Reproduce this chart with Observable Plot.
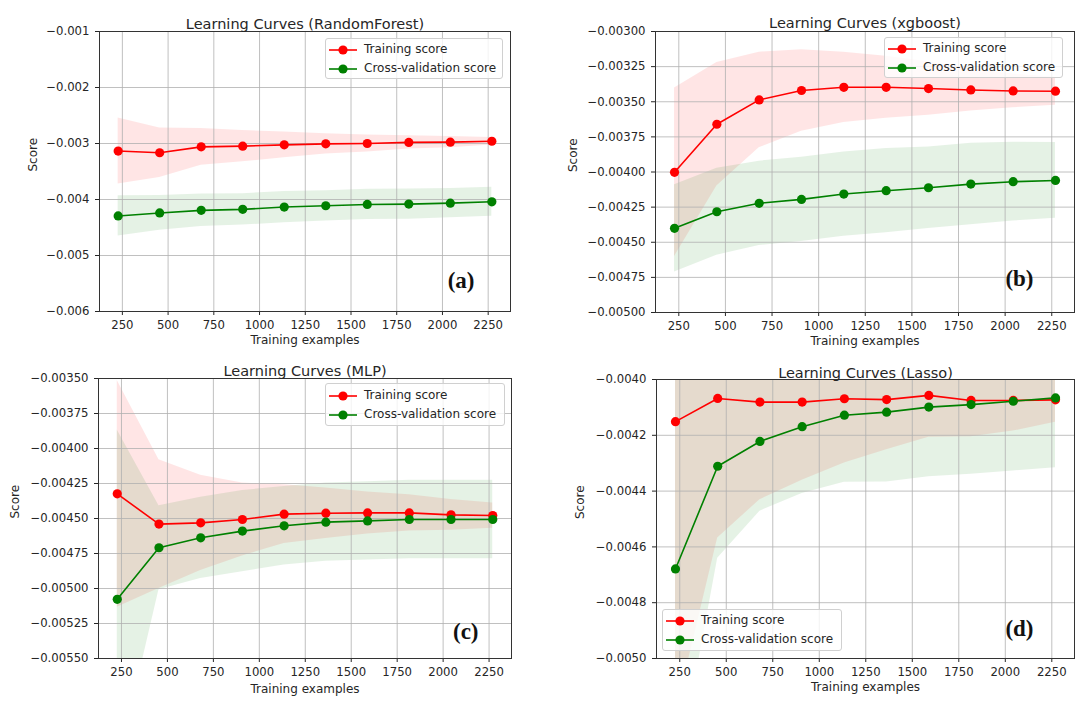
<!DOCTYPE html>
<html><head><meta charset="utf-8">
<script src="https://cdn.jsdelivr.net/npm/d3@7"></script>
<script src="https://cdn.jsdelivr.net/npm/@observablehq/plot@0.6"></script>
<style>
body{margin:0;background:#fff;}
#wrap{position:relative;width:1089px;height:702px;background:#fff;overflow:hidden;font-family:"DejaVu Sans",sans-serif;}
.panel{position:absolute;}
.panel svg{display:block;}
.legend{position:absolute;background:rgba(255,255,255,0.8);border:1px solid #d0d0d0;border-radius:3px;box-sizing:border-box;}
.legend .row{position:absolute;left:0;height:14px;font-size:12px;color:#262626;white-space:nowrap;}
.legend .row svg{position:absolute;top:1px;}
.legend .row span{position:absolute;top:-1px;line-height:14px;}
</style></head><body><div id="wrap"></div>
<script>
// ---- data ----
const sizes = [227, 454, 681, 908, 1135, 1362, 1589, 1816, 2043, 2270];
const xTicks = [250, 500, 750, 1000, 1250, 1500, 1750, 2000, 2250];
const seriesNames = ["Training score", "Cross-validation score"];
const titles = ["Learning Curves (RandomForest)", "Learning Curves (xgboost)", "Learning Curves (MLP)", "Learning Curves (Lasso)"];
const panelLabels = ["(a)", "(b)", "(c)", "(d)"];

const rfTrainMean = [-0.003135, -0.003165, -0.003060, -0.003047, -0.003024, -0.003006, -0.003000, -0.002980, -0.002976, -0.002960];
const rfTrainStd  = [0.00059, 0.00044, 0.00033, 0.00028, 0.00023, 0.00018, 0.00015, 0.00012, 0.00010, 0.000065];
const rfCvMean    = [-0.004294, -0.004240, -0.004194, -0.004176, -0.004135, -0.004112, -0.004088, -0.004082, -0.004065, -0.004041];
const rfCvStd     = [0.00036, 0.00031, 0.00029, 0.00028, 0.00028, 0.00027, 0.00027, 0.00027, 0.00026, 0.00026];
const rfYTicks    = [-0.006, -0.005, -0.004, -0.003, -0.002, -0.001];

const xgbTrainMean = [-0.004002, -0.003660, -0.003487, -0.003420, -0.003397, -0.003397, -0.003406, -0.003416, -0.003423, -0.003425];
const xgbTrainStd  = [0.00060, 0.00044, 0.00034, 0.00029, 0.00025, 0.00022, 0.00019, 0.00015, 0.00012, 0.00010];
const xgbCvMean    = [-0.004401, -0.004283, -0.004223, -0.004195, -0.004157, -0.004133, -0.004112, -0.004086, -0.004069, -0.004060];
const xgbCvStd     = [0.00031, 0.00031, 0.00030, 0.00030, 0.00030, 0.00030, 0.00029, 0.00029, 0.00028, 0.00027];
const xgbYTicks    = [-0.005, -0.00475, -0.0045, -0.00425, -0.004, -0.00375, -0.0035, -0.00325, -0.003];

const mlpTrainMean = [-0.004324, -0.004540, -0.004531, -0.004507, -0.004469, -0.004462, -0.004460, -0.004460, -0.004474, -0.004479];
const mlpTrainStd  = [0.00081, 0.00046, 0.00034, 0.00026, 0.00021, 0.00018, 0.00015, 0.00013, 0.00011, 0.00009];
const mlpCvMean    = [-0.005077, -0.004709, -0.004638, -0.004590, -0.004552, -0.004526, -0.004517, -0.004507, -0.004507, -0.004507];
const mlpCvStd     = [0.00121, 0.00030, 0.00029, 0.00029, 0.00028, 0.00028, 0.00028, 0.00028, 0.00028, 0.00028];
const mlpYTicks    = [-0.0055, -0.00525, -0.005, -0.00475, -0.0045, -0.00425, -0.004, -0.00375, -0.0035];

const lassoTrainMean = [-0.004151, -0.004068, -0.004081, -0.004081, -0.004069, -0.004072, -0.004057, -0.004075, -0.004075, -0.004073];
const lassoTrainStd  = [0.00105, 0.00050, 0.00035, 0.00028, 0.00023, 0.00018, 0.00015, 0.00013, 0.00011, 0.00008];
const lassoCvMean    = [-0.004679, -0.004311, -0.004222, -0.004169, -0.004128, -0.004117, -0.004099, -0.004090, -0.004078, -0.004066];
const lassoCvStd     = [0.00078, 0.00033, 0.00025, 0.00024, 0.00024, 0.00025, 0.00025, 0.00025, 0.00025, 0.00025];
const lassoYTicks    = [-0.005, -0.0048, -0.0046, -0.0044, -0.0042, -0.004];

// ---- helpers ----
const rows = (mean, std) => sizes.map((x, i) => ({x, mean: mean[i], lo: mean[i] - std[i], hi: mean[i] + std[i]}));
const wrap = document.getElementById("wrap");

function panel(cfg) {
  const train = rows(cfg.trainMean, cfg.trainStd);
  const cv = rows(cfg.cvMean, cfg.cvStd);
  const fmt = d3.format(cfg.fmt);
  const yDomain = [cfg.yTicks[0], cfg.yTicks[cfg.yTicks.length - 1]];
  const chart = Plot.plot({
    width: cfg.w, height: cfg.h,
    marginLeft: cfg.ml, marginRight: cfg.mr, marginTop: cfg.mt, marginBottom: cfg.mb,
    style: {fontFamily: "DejaVu Sans, sans-serif", fontSize: "11.7px", color: "#262626", background: "transparent", overflow: "visible"},
    x: {domain: [125, 2372], ticks: xTicks, tickFormat: d => String(d), tickSize: 4, tickPadding: 5, label: null},
    y: {domain: yDomain, ticks: cfg.yTicks, tickFormat: fmt, tickSize: 4, tickPadding: 6, label: null},
    marks: [
      Plot.areaY(train, {x: "x", y1: "lo", y2: "hi", fill: "#ff0000", fillOpacity: 0.1, clip: true}),
      Plot.areaY(cv, {x: "x", y1: "lo", y2: "hi", fill: "#008000", fillOpacity: 0.1, clip: true}),
      Plot.ruleX(xTicks, {stroke: "#b0b0b0", strokeWidth: 0.8}),
      Plot.ruleY(cfg.yTicks, {stroke: "#b0b0b0", strokeWidth: 0.8}),
      Plot.line(train, {x: "x", y: "mean", stroke: "#ff0000", strokeWidth: 1.6, clip: true}),
      Plot.line(cv, {x: "x", y: "mean", stroke: "#008000", strokeWidth: 1.6, clip: true}),
      Plot.dot(train, {x: "x", y: "mean", r: 4.6, fill: "#ff0000", stroke: "none"}),
      Plot.dot(cv, {x: "x", y: "mean", r: 4.6, fill: "#008000", stroke: "none"}),
      Plot.frame({stroke: "#333", strokeWidth: 1}),
      Plot.text([cfg.title], {text: d => d, frameAnchor: "top", dy: cfg.titleDy, fontSize: 14.5, fill: "#262626"}),
      Plot.text(["Score"], {text: d => d, frameAnchor: "left", dx: cfg.scoreDx, rotate: -90, fontSize: 12, fill: "#262626"}),
      Plot.text(["Training examples"], {text: d => d, frameAnchor: "bottom", dy: cfg.xlabDy, fontSize: 12, fill: "#262626"}),
      Plot.text([cfg.label], {text: d => d, frameAnchor: "bottom-right", dx: cfg.labDx, dy: cfg.labDy, fontFamily: "Liberation Serif, Times New Roman, serif", fontWeight: "bold", fontSize: 23, fill: "#111"})
    ]
  });
  const div = document.createElement("div");
  div.className = "panel";
  div.style.left = cfg.left + "px";
  div.style.top = cfg.top + "px";
  div.appendChild(chart);
  wrap.appendChild(div);

  // legend
  const lg = document.createElement("div");
  lg.className = "legend";
  lg.style.left = cfg.lg[0] + "px"; lg.style.top = cfg.lg[1] + "px";
  lg.style.width = cfg.lg[2] + "px"; lg.style.height = cfg.lg[3] + "px";
  const colors = ["#ff0000", "#008000"];
  seriesNames.forEach((name, i) => {
    const r = document.createElement("div");
    r.className = "row";
    r.style.top = (cfg.lgRow[i] - 7) + "px";
    r.innerHTML = `<svg width="28" height="12" style="left:3px"><line x1="0" x2="28" y1="6" y2="6" stroke="${colors[i]}" stroke-width="1.6"/><circle cx="14" cy="6" r="4.6" fill="${colors[i]}"/></svg><span style="left:38px">${name}</span>`;
    lg.appendChild(r);
  });
  wrap.appendChild(lg);
}

panel({title: titles[0], label: panelLabels[0], trainMean: rfTrainMean, trainStd: rfTrainStd, cvMean: rfCvMean, cvStd: rfCvStd, yTicks: rfYTicks, fmt: ".3f",
  left: 0, top: 0, w: 545, h: 341, ml: 99, mr: 35, mt: 31, mb: 30, titleDy: -13, scoreDx: -66, xlabDy: 32, labDx: -36, labDy: -24,
  lg: [325, 38, 178, 41], lgRow: [11, 30]});
panel({title: titles[1], label: panelLabels[1], trainMean: xgbTrainMean, trainStd: xgbTrainStd, cvMean: xgbCvMean, cvStd: xgbCvStd, yTicks: xgbYTicks, fmt: ".5f",
  left: 545, top: 0, w: 544, h: 341, ml: 110, mr: 15, mt: 31, mb: 29, titleDy: -14, scoreDx: -82, xlabDy: 32, labDx: -41, labDy: -27,
  lg: [884, 37, 179, 41], lgRow: [11, 30]});
panel({title: titles[2], label: panelLabels[2], trainMean: mlpTrainMean, trainStd: mlpTrainStd, cvMean: mlpCvMean, cvStd: mlpCvStd, yTicks: mlpYTicks, fmt: ".5f",
  left: 0, top: 341, w: 545, h: 361, ml: 98, mr: 34, mt: 37, mb: 44, titleDy: -13, scoreDx: -83, xlabDy: 34, labDx: -33, labDy: -20,
  lg: [325, 383, 180, 43], lgRow: [12, 31]});
panel({title: titles[3], label: panelLabels[3], trainMean: lassoTrainMean, trainStd: lassoTrainStd, cvMean: lassoCvMean, cvStd: lassoCvStd, yTicks: lassoYTicks, fmt: ".4f",
  left: 545, top: 341, w: 544, h: 361, ml: 111, mr: 15, mt: 38, mb: 44, titleDy: -12, scoreDx: -76, xlabDy: 32, labDx: -41, labDy: -23,
  lg: [662, 609, 180, 42], lgRow: [11, 30]});
</script></body></html>
